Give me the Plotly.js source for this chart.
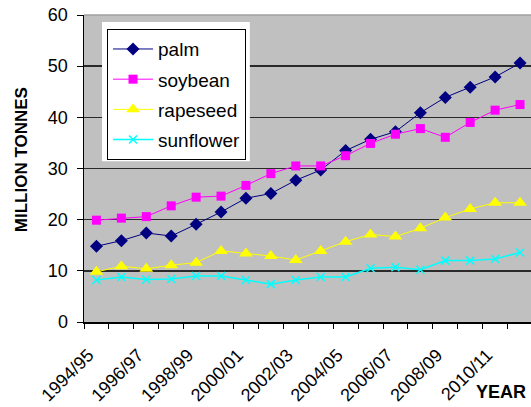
<!DOCTYPE html>
<html>
<head>
<meta charset="utf-8">
<script src="https://cdn.plot.ly/plotly-3.0.1.min.js"></script>
<style>
  html, body { margin: 0; padding: 0; background: #fff; }
  #chart { width: 531px; height: 407px; }
</style>
</head>
<body>
<div id="chart"></div>
<script>
// Marketing years on the category axis
const years = ['1994/95','1995/96','1996/97','1997/98','1998/99','1999/00','2000/01','2001/02','2002/03',
               '2003/04','2004/05','2005/06','2006/07','2007/08','2008/09','2009/10','2010/11','2011/12'];

// Vegetable oil production, million tonnes
const palm      = [14.8, 15.9, 17.4, 16.8, 19.1, 21.5, 24.2, 25.1, 27.7, 29.7, 33.5, 35.7, 37.2, 40.9, 43.9, 45.9, 47.9, 50.6];
const soybean   = [19.9, 20.3, 20.6, 22.7, 24.4, 24.6, 26.7, 29.0, 30.5, 30.5, 32.5, 34.9, 36.7, 37.8, 36.1, 39.0, 41.4, 42.5];
const rapeseed  = [9.8, 10.9, 10.4, 11.1, 11.6, 13.9, 13.4, 12.9, 12.1, 13.9, 15.7, 17.1, 16.7, 18.3, 20.4, 22.1, 23.3, 23.3];
const sunflower = [8.2, 8.8, 8.3, 8.4, 9.0, 9.0, 8.2, 7.4, 8.2, 8.8, 8.8, 10.5, 10.7, 10.2, 12.0, 12.0, 12.3, 13.6];

const idx = years.map((_, i) => i);
const labelIdx = idx.filter(i => i % 2 === 0);
const boundaries = idx.map(i => i - 0.5).concat([years.length - 0.5]);

function series(name, values, color, symbol, size, lineWidth, group) {
  return {
    type: 'scatter', mode: 'lines+markers', name: name,
    x: idx, y: values, legendgroup: group,
    line: { color: color, width: lineWidth },
    marker: { color: color, symbol: symbol, size: size, line: { color: color, width: symbol.indexOf('x') === 0 ? 1.5 : 0 } },
    hoverinfo: 'skip'
  };
}

const traces = [
  series('palm', palm, '#000080', 'diamond', 10, 1, 'a'),
  series('soybean', soybean, '#FF00FF', 'square', 9, 1, 'b'),
  series('rapeseed', rapeseed, '#FFFF00', 'triangle-up', 12, 1, 'c'),
  series('sunflower', sunflower, '#00FFFF', 'x-thin-open', 8, 1.5, 'd')
];

const font = 'Liberation Sans, Arial, sans-serif';

const layout = {
  width: 531, height: 407,
  margin: { l: 84, r: 0, t: 15, b: 85 },
  paper_bgcolor: '#ffffff',
  plot_bgcolor: '#c0c0c0',
  font: { family: font, size: 18, color: '#000' },
  showlegend: true,
  legend: {
    x: 0.0515, y: 0.954, xanchor: 'left', yanchor: 'top',
    bgcolor: '#ffffff', bordercolor: '#000', borderwidth: 1,
    font: { family: font, size: 19, color: '#000' },
    traceorder: 'grouped', tracegroupgap: 2.5, itemwidth: 40
  },
  xaxis: {
    range: [-0.5, 17.44],
    tickmode: 'array', tickvals: labelIdx, ticktext: labelIdx.map(i => years[i]),
    tickangle: -45, ticks: '', showgrid: false, zeroline: false,
    showline: true, linecolor: '#000', linewidth: 1.5,
    ticklabelstandoff: 14, ticklabelshift: -8,
    tickfont: { family: font, size: 18, color: '#000' },
    minor: { tickmode: 'array', tickvals: boundaries, ticks: 'outside', ticklen: 5, tickcolor: '#000', tickwidth: 1, showgrid: false },
    fixedrange: true
  },
  yaxis: {
    range: [0, 60], dtick: 10, tick0: 0,
    ticks: 'outside', ticklen: 6, tickcolor: '#000', tickwidth: 1,
    showline: true, linecolor: '#000', linewidth: 1.5,
    showgrid: true, gridcolor: '#2a2a2a', gridwidth: 1.5, zeroline: false,
    ticklabelstandoff: 5,
    tickfont: { family: font, size: 18, color: '#000' },
    fixedrange: true
  },
  shapes: [
    { type: 'line', xref: 'paper', yref: 'paper', x0: 0, x1: 1, y0: 1, y1: 1, line: { color: '#a0a0a0', width: 1.5 } },
    // white frame around the legend box
    { type: 'rect', layer: 'above', xref: 'paper', yref: 'paper', x0: 0.0403, x1: 0.371, y0: 0.524, y1: 0.977,
      fillcolor: '#ffffff', line: { width: 0 } }
  ],
  annotations: [
    { text: '<b>MILLION TONNES</b>', xref: 'paper', yref: 'paper', x: -0.138, y: 0.528,
      xanchor: 'center', yanchor: 'middle',
      textangle: -90, showarrow: false, font: { family: font, size: 17, color: '#000' } },
    { text: '<b>YEAR</b>', xref: 'paper', yref: 'paper', x: 0.933, y: -0.228,
      xanchor: 'center', yanchor: 'middle',
      showarrow: false, font: { family: font, size: 18, color: '#000' } }
  ]
};

Plotly.newPlot('chart', traces, layout, { displayModeBar: false, staticPlot: true });
</script>
</body>
</html>
